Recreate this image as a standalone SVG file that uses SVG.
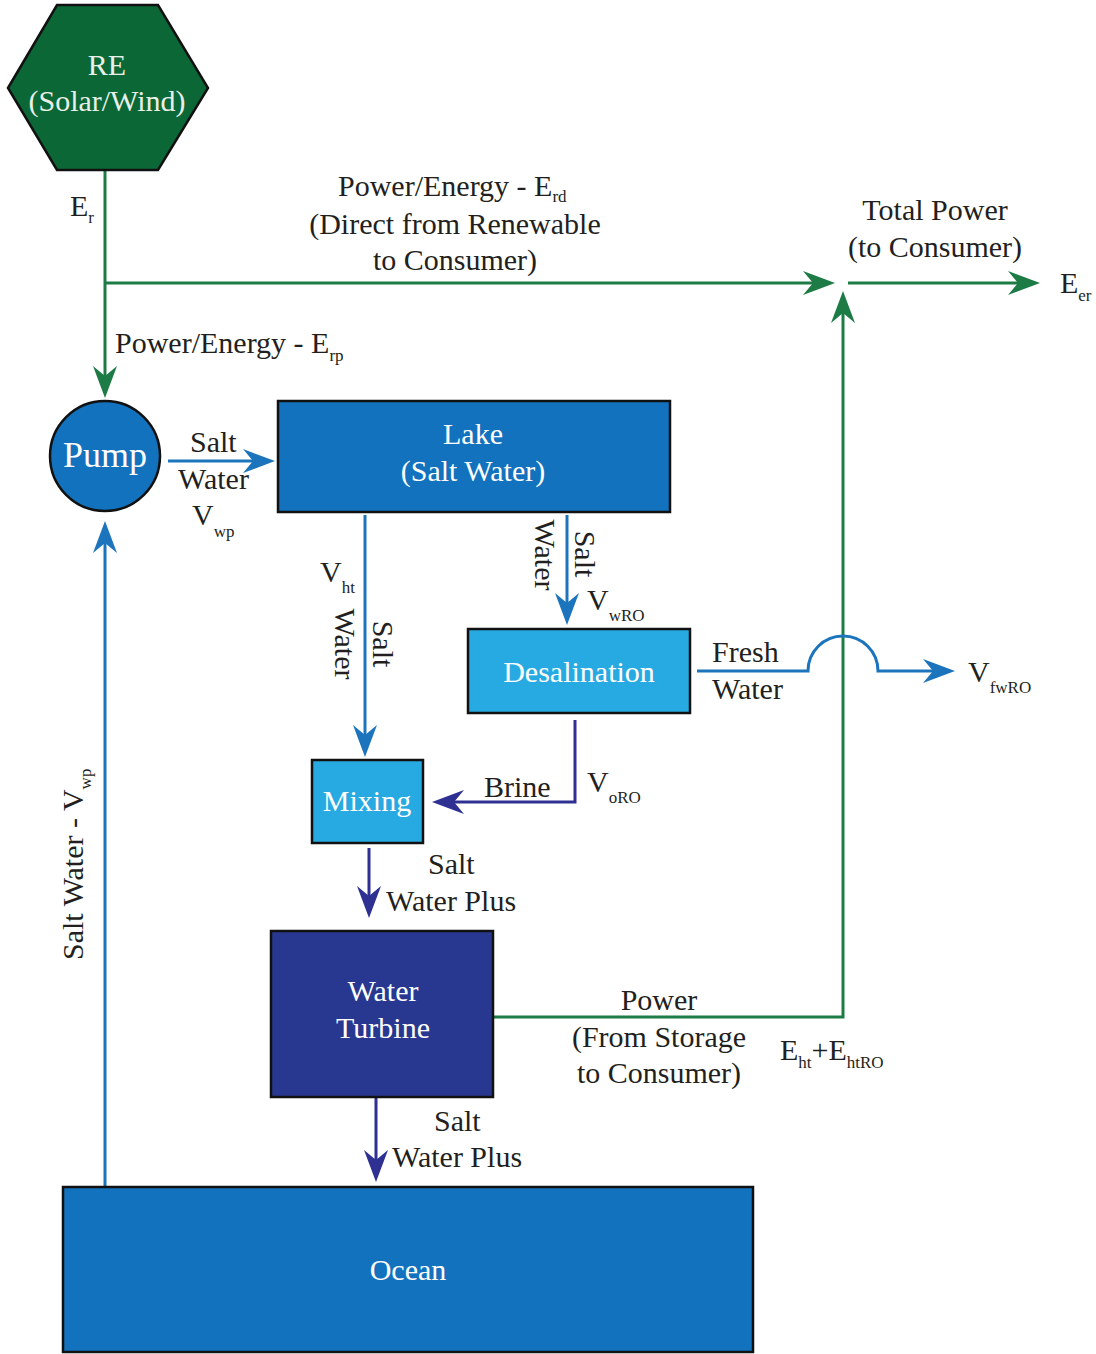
<svg xmlns="http://www.w3.org/2000/svg" width="1096" height="1354" viewBox="0 0 1096 1354">
<style>
text{font-family:"Liberation Serif",Tinos,"Times New Roman","DejaVu Serif",serif;font-size:30px;fill:#231f20}
.w{fill:#ffffff}
.wl{fill:#e9efe9}
.m{text-anchor:middle}
.s{font-size:17px}
.node{stroke:#111;stroke-width:2.5}
.g{fill:none;stroke:#1d7b45;stroke-width:3}
.b{fill:none;stroke:#1c75bc;stroke-width:3}
.n{fill:none;stroke:#2e3192;stroke-width:3}
</style>
<defs>
<marker id="ag" viewBox="0 -12 32 24" markerWidth="32" markerHeight="24" refX="12" refY="0" orient="auto" markerUnits="userSpaceOnUse"><path d="M32,0 L0,-12 L10,0 L0,12 Z" fill="#1d7b45"/></marker>
<marker id="ab" viewBox="0 -12 32 24" markerWidth="32" markerHeight="24" refX="12" refY="0" orient="auto" markerUnits="userSpaceOnUse"><path d="M32,0 L0,-12 L10,0 L0,12 Z" fill="#1c75bc"/></marker>
<marker id="an" viewBox="0 -12 32 24" markerWidth="32" markerHeight="24" refX="12" refY="0" orient="auto" markerUnits="userSpaceOnUse"><path d="M32,0 L0,-12 L10,0 L0,12 Z" fill="#2e3192"/></marker>
</defs>

<g id="connectors">
<path class="g" d="M105,170 V378" marker-end="url(#ag)"/>
<path class="g" d="M105,283 H815" marker-end="url(#ag)"/>
<path class="g" d="M848,283 H1020" marker-end="url(#ag)"/>
<path class="g" d="M493,1017 H843 V311" marker-end="url(#ag)"/>
<path class="b" d="M168,461 H255" marker-end="url(#ab)"/>
<path class="b" d="M365,515 V737" marker-end="url(#ab)"/>
<path class="b" d="M567,515 V605" marker-end="url(#ab)"/>
<path class="b" d="M697,671 H808 A35,35 0 0 1 878,671 H935" marker-end="url(#ab)"/>
<path class="b" d="M105,1187 V541" marker-end="url(#ab)"/>
<path class="n" d="M575,720 V802 H452" marker-end="url(#an)"/>
<path class="n" d="M369,848 V898" marker-end="url(#an)"/>
<path class="n" d="M376,1097 V1162" marker-end="url(#an)"/>
</g>

<g id="re">
<polygon class="node" points="8,88 57,5 158,5 208,88 158,170 57,170" fill="#0b6836"/>
<text class="m wl" x="107" y="75">RE</text>
<text class="m wl" x="107" y="111">(Solar/Wind)</text>
</g>

<g id="pump">
<circle class="node" cx="105" cy="456" r="55" fill="#1272bd"/>
<text class="m w" x="105" y="467" style="font-size:36px">Pump</text>
</g>

<g id="lake">
<rect class="node" x="278" y="401" width="392" height="111" fill="#1272bd"/>
<text class="m w" x="473" y="444">Lake</text>
<text class="m w" x="473" y="481">(Salt Water)</text>
</g>

<g id="desalination">
<rect class="node" x="468" y="629" width="222" height="84" fill="#27aae1"/>
<text class="m w" x="579" y="682">Desalination</text>
</g>

<g id="mixing">
<rect class="node" x="312" y="760" width="111" height="83" fill="#27aae1"/>
<text class="m w" x="367" y="811">Mixing</text>
</g>

<g id="turbine">
<rect class="node" x="271" y="931" width="222" height="166" fill="#283891"/>
<text class="m w" x="383" y="1001">Water</text>
<text class="m w" x="383" y="1038">Turbine</text>
</g>

<g id="ocean">
<rect class="node" x="63" y="1187" width="690" height="165" fill="#1272bd"/>
<text class="m w" x="408" y="1280">Ocean</text>
</g>

<g id="labels">
<text x="70" y="216">E<tspan class="s" dy="7">r</tspan></text>
<text x="338" y="196">Power/Energy - E<tspan class="s" dy="6">rd</tspan></text>
<text class="m" x="455" y="234">(Direct from Renewable</text>
<text class="m" x="455" y="270">to Consumer)</text>
<text class="m" x="935" y="220">Total Power</text>
<text class="m" x="935" y="257">(to Consumer)</text>
<text x="1060" y="293">E<tspan class="s" dy="8">er</tspan></text>
<text x="115" y="353">Power/Energy - E<tspan class="s" dy="8">rp</tspan></text>
<text x="190" y="452">Salt</text>
<text x="178" y="489">Water</text>
<text x="192" y="525">V<tspan class="s" dy="12">wp</tspan></text>
<text x="320" y="582">V<tspan class="s" dy="11">ht</tspan></text>
<text class="m" transform="translate(335,644) rotate(90)">Water</text>
<text class="m" transform="translate(373,644) rotate(90)">Salt</text>
<text class="m" transform="translate(535,555) rotate(90)">Water</text>
<text class="m" transform="translate(575,554) rotate(90)">Salt</text>
<text x="587" y="610">V<tspan class="s" dy="11">wRO</tspan></text>
<text x="712" y="662">Fresh</text>
<text x="712" y="699">Water</text>
<text x="968" y="682">V<tspan class="s" dy="11">fwRO</tspan></text>
<text x="484" y="797">Brine</text>
<text x="587" y="792">V<tspan class="s" dy="11">oRO</tspan></text>
<text x="428" y="874">Salt</text>
<text x="386" y="911">Water Plus</text>
<text class="m" x="659" y="1010">Power</text>
<text class="m" x="659" y="1047">(From Storage</text>
<text class="m" x="659" y="1083">to Consumer)</text>
<text x="780" y="1060">E<tspan class="s" dy="8">ht</tspan><tspan dy="-8">+E</tspan><tspan class="s" dy="8">htRO</tspan></text>
<text x="434" y="1131">Salt</text>
<text x="392" y="1167">Water Plus</text>
<text transform="translate(83,960) rotate(-90)">Salt Water - V<tspan class="s" dy="8">wp</tspan></text>
</g>
</svg>
